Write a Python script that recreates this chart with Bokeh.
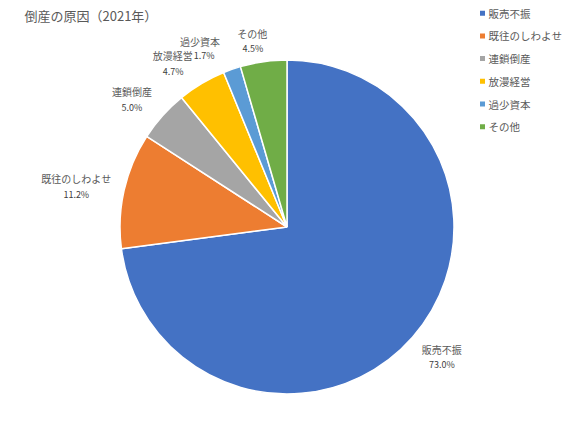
import numpy as np
from bokeh.plotting import figure
from bokeh.models import Range1d
from bokeh.core.properties import value
from bokeh.embed import file_html
from bokeh.resources import INLINE

# ---- data ----
title_text = "倒産の原因（2021年）"
categories = ["販売不振", "既往のしわよせ", "連鎖倒産", "放漫経営", "過少資本", "その他"]
shares = [73.0, 11.2, 5.0, 4.7, 1.7, 4.5]
colors = ["#4472C4", "#ED7D31", "#A5A5A5", "#FFC000", "#5B9BD5", "#70AD47"]

# ---- layout (picture pixel coordinates) ----
PAGE_H = 424
W, H = 567, 424
CX, CY, R = 286.5, 226.5, 167.0
LABEL_R = 200.0
# per-label nudges (px) of name / percent relative to the radial anchor
name_nudge = [(4.5, -9.5), (-15.6, -4.6), (-6, -2), (-12, 0.5), (-21, 3.2), (-6.5, 4.2)]
pct_nudge = [(4.5, 6), (-15.6, 11.4), (-6, 13.5), (-11.5, 16), (-17, 17.7), (-6, 19.2)]
FONT = "Noto Sans CJK JP"


def Y(py):
    return PAGE_H - py


p = figure(width=W, height=H, x_range=Range1d(0, W), y_range=Range1d(PAGE_H - H, PAGE_H),
           x_axis_type=None, y_axis_type=None, output_backend="svg",
           toolbar_location=None, min_border=0)
p.grid.visible = False
p.outline_line_color = None
p.background_fill_color = "white"
p.border_fill_color = "white"

vals = np.array(shares, dtype=float)
frac = vals / vals.sum()
c1 = np.cumsum(frac)
c0 = c1 - frac
start = np.pi / 2 - 2 * np.pi * c0
end = np.pi / 2 - 2 * np.pi * c1

p.wedge(x=CX, y=Y(CY), radius=R, start_angle=start, end_angle=end,
        direction="clock", fill_color=colors, line_color="white", line_width=1.5)

mid = 2 * np.pi * (c0 + c1) / 2
bx = CX + LABEL_R * np.sin(mid)
by = CY - LABEL_R * np.cos(mid)

nx = [bx[i] + name_nudge[i][0] for i in range(len(categories))]
ny = [Y(by[i] + name_nudge[i][1]) for i in range(len(categories))]
px = [bx[i] + pct_nudge[i][0] for i in range(len(categories))]
py = [Y(by[i] + pct_nudge[i][1]) for i in range(len(categories))]
pct_text = [f"{v:.1f}%" for v in shares]

p.text(x=nx, y=ny, text=categories, text_align="center", text_baseline="middle",
       text_font=value(FONT), text_font_size="10px", text_color="#595959")
p.text(x=px, y=py, text=pct_text, text_align="center", text_baseline="middle",
       text_font=value(FONT), text_font_size="9px", text_color="#404040")

# title
p.text(x=[24], y=[Y(15)], text=[title_text], text_align="left", text_baseline="middle",
       text_font=value(FONT), text_font_size="13px", text_color="#595959")

# legend
LEG_X, LEG_Y0, LEG_STEP = 482, 12.7, 22.7
ly = [Y(LEG_Y0 + i * LEG_STEP) for i in range(len(categories))]
p.scatter(x=[LEG_X] * len(categories), y=ly, marker="square", size=5,
          fill_color=colors, line_color=None)
p.text(x=[LEG_X + 6] * len(categories), y=ly, text=categories, text_align="left",
       text_baseline="middle", text_font=value(FONT), text_font_size="10.5px",
       text_color="#595959")

open("out.html", "w").write(file_html(p, INLINE))
